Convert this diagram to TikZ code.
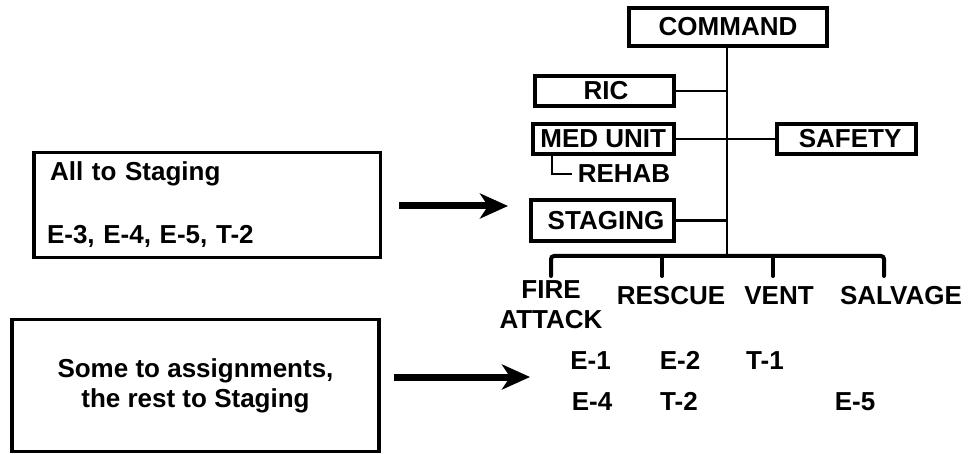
\documentclass[tikz,border=0pt]{standalone}
\usepackage{fontspec}
\setmainfont{Liberation Sans}
\usetikzlibrary{arrows.meta}
\newcommand{\chartfont}{\bfseries\fontsize{26}{30}\selectfont}
\tikzset{
  chartbox/.style={draw, line width=4pt, inner sep=0pt, font=\chartfont},
  notebox/.style={draw, line width=3.5pt, inner sep=0pt, font=\chartfont},
  lbl/.style={font=\chartfont, anchor=base, inner xsep=6pt, inner ysep=0pt},
  conn/.style={line width=2.2pt},
  busline/.style={line width=4pt, line cap=round, rounded corners=3pt},
  bigarrow/.style={line width=7pt, -{Stealth[length=28pt,width=25pt,inset=8pt]}},
}
\begin{document}
\begin{tikzpicture}[x=1pt, y=-1pt]
\useasboundingbox (0,0) rectangle (969,454);

% command staff boxes
\node[chartbox, minimum width=198, minimum height=38] (command) at (728,27) {COMMAND};
\node[chartbox, minimum width=139, minimum height=30] (ric) at (604,91) {\hspace*{4pt}RIC};
\node[chartbox, minimum width=140.5, minimum height=29.7] (med) at (603.25,138.85) {MED UNIT};
\node[chartbox, minimum width=139.3, minimum height=29.7] (safety) at (846.65,138.85) {\hspace*{7pt}SAFETY};
\node[chartbox, minimum width=142.5, minimum height=40.4] (staging) at (602.5,220.5) {\hspace*{7pt}STAGING};
\node[lbl] (rehab) at (624,183) {REHAB};

% trunk and side branches
\coordinate (trunktop) at (727,48);
\coordinate (trunkbot) at (727,256);
\draw[conn] (trunktop) -- (trunkbot);
\draw[conn] (ric.east) -- (ric.east -| trunktop);
\draw[conn] (med.east) -- (safety.west);
\draw[conn] (staging.east) -- (staging.east -| trunktop);
\coordinate (rehabtop) at (551.7,155.7);
\draw[conn] (rehabtop) |- (rehab.west);

% division bus
\coordinate (d1) at (551,276);
\coordinate (d2) at (662,276);
\coordinate (d3) at (773,276);
\coordinate (d4) at (884,276);
\draw[busline] (d1) -- (551,256) -- (884,256) -- (d4);
\draw[busline] (d2) -- (d2 |- trunkbot);
\draw[busline] (d3) -- (d3 |- trunkbot);

% division labels
\node[font=\chartfont, align=center, inner sep=0pt] (fire) at (551,305)
  {\fontsize{26}{26}\selectfont FIRE\\ATTACK};
\node[lbl] (rescue) at (671,305) {RESCUE};
\node[lbl] (vent) at (779,305) {VENT};
\node[lbl] (salvage) at (901,305) {SALVAGE};

% unit assignments
\node[lbl] (e1) at (590.5,369) {E-1};
\node[lbl] (e2) at (680,369) {E-2};
\node[lbl] (t1) at (765,369) {T-1};
\node[lbl] (e4) at (592,410) {E-4};
\node[lbl] (t2) at (679,410) {T-2};
\node[lbl] (e5) at (855,410) {E-5};

% left-hand notes
\node[notebox, minimum width=346.5, minimum height=105, text width=320.5,
      inner xsep=13pt, align=left] (allnote) at (207.25,205)
  {\hspace*{3pt}All to Staging\\[33pt]E-3, E-4, E-5, T-2};
\node[notebox, minimum width=367, minimum height=132, align=center] (somenote) at (195.5,385.5)
  {Some to assignments,\\the rest to Staging};

% arrows toward the chart
\coordinate (a1s) at (399,206);
\coordinate (a1e) at (508,206);
\coordinate (a2s) at (394,377);
\coordinate (a2e) at (530,377);
\draw[bigarrow] (a1s) -- (a1e);
\draw[bigarrow] (a2s) -- (a2e);
\end{tikzpicture}
\end{document}
